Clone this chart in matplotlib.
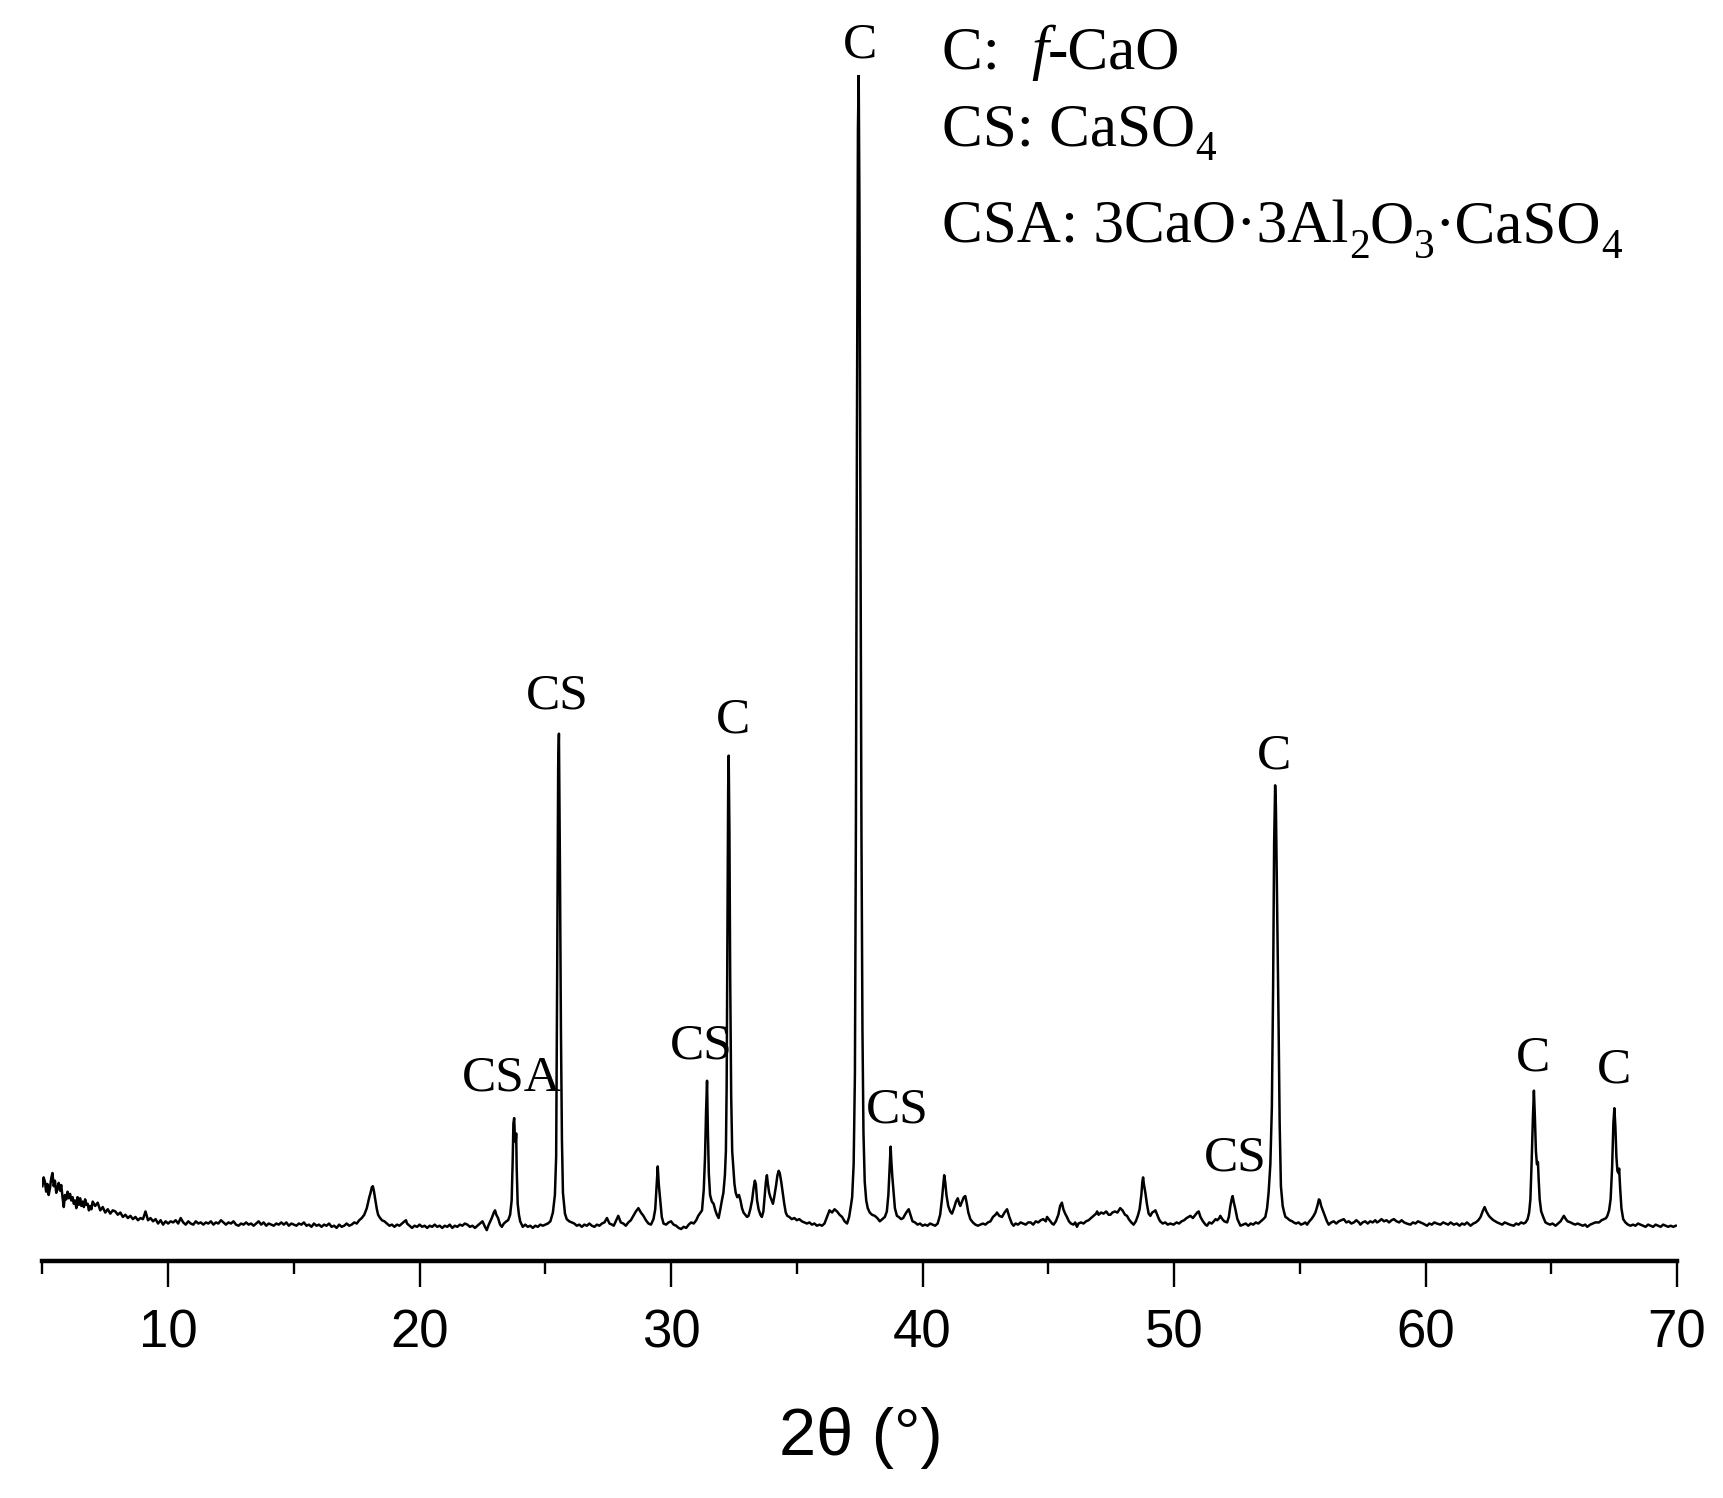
import matplotlib
matplotlib.use("Agg")
import numpy as np
import matplotlib.pyplot as plt
from matplotlib.ticker import MultipleLocator

# XRD scan: 2theta (deg) and intensity (a.u.)
tt_low = [5.0, 5.05, 5.1, 5.15, 5.2, 5.25, 5.3, 5.35, 5.4, 5.45, 5.5, 5.55, 5.6, 5.65, 5.7, 5.75, 5.8,
          5.85, 5.9, 5.95, 6.0, 6.05, 6.1, 6.15, 6.2, 6.25, 6.3, 6.35, 6.4, 6.45, 6.5, 6.55, 6.6, 6.65,
          6.7, 6.75, 6.8, 6.85, 6.9, 6.95,
          7.0, 7.1, 7.2, 7.3, 7.4, 7.5, 7.6, 7.7, 7.8, 7.9, 8.0, 8.1, 8.2, 8.3, 8.4, 8.5, 8.6, 8.7, 8.8, 8.9,
          9.0, 9.1, 9.2, 9.3, 9.4, 9.5, 9.6, 9.7, 9.8, 9.9, 10.0, 10.1, 10.2, 10.3, 10.4, 10.5, 10.6, 10.7,
          10.8, 10.9, 11.0, 11.1, 11.2, 11.3, 11.4, 11.5, 11.6, 11.7, 11.8, 11.9, 12.0, 12.1, 12.2, 12.3,
          12.4, 12.5, 12.6, 12.7, 12.8, 12.9, 13.0, 13.1, 13.2, 13.3, 13.4, 13.5, 13.6, 13.7, 13.8, 13.9,
          14.0, 14.1, 14.2, 14.3, 14.4, 14.5, 14.6, 14.7, 14.8, 14.9, 15.0, 15.1, 15.2, 15.3, 15.4, 15.5,
          15.6, 15.7, 15.8, 15.9, 16.0, 16.1, 16.2, 16.3, 16.4, 16.5, 16.6, 16.7, 16.8, 16.9, 17.0, 17.1,
          17.2, 17.3, 17.4, 17.5, 17.6, 17.7, 17.8, 17.9, 17.95, 18.0, 18.05, 18.1, 18.14, 18.18, 18.23,
          18.3, 18.35, 18.4, 18.5, 18.6, 18.7, 18.8, 18.9, 19.0, 19.1, 19.2, 19.3, 19.4, 19.46, 19.5, 19.6,
          19.7, 19.8, 19.9, 20.0, 20.1, 20.2, 20.3, 20.4, 20.5, 20.6, 20.7, 20.8, 20.9, 21.0, 21.1, 21.2,
          21.3, 21.4, 21.5, 21.6, 21.7, 21.8, 21.9, 22.0, 22.1, 22.2, 22.3, 22.4]
i_low = [68, 76, 72, 63, 70, 60, 66, 75, 80, 68, 73, 62, 66, 71, 64, 69, 58, 49, 60, 56,
         63, 57, 61, 55, 58, 52, 55, 48, 58, 51, 57, 50, 54, 49, 56, 51, 52, 46, 50, 47,
         54, 50, 53, 46, 49, 44, 47, 43, 46, 45, 42, 44, 40, 42, 39, 41, 38, 40, 37, 39,
         38, 45, 37, 39, 36, 38, 34, 37, 33, 36, 34, 36, 35, 37, 34, 39, 35, 33,
         36, 34, 33, 36, 34, 35, 33, 35, 34, 36, 33, 35, 34, 37, 35, 33,
         35, 34, 36, 33, 32, 34, 33, 35, 33, 34, 32, 34, 36, 33, 35, 32,
         34, 33, 32, 34, 33, 35, 33, 35, 32, 34, 33, 32, 34, 33, 35, 32,
         33, 31, 34, 32, 33, 31, 33, 32, 34, 31, 32, 30, 33, 31, 32, 34,
         32, 33, 35, 34, 37, 39, 42, 48, 53, 58, 62, 67, 68, 64, 57,
         47, 42, 40, 37, 36, 34, 32, 33, 31, 33, 32, 34, 36, 37, 34, 32,
         30, 32, 31, 33, 31, 32, 30, 32, 31, 33, 31, 32, 30, 32, 31, 33,
         30, 32, 31, 33, 32, 34, 33, 31, 32, 30, 32, 34]

tt_mid = [22.5, 22.6, 22.67, 22.75, 22.87, 22.95, 23.0, 23.05, 23.12, 23.2, 23.27, 23.35, 23.45, 23.52,
          23.6, 23.66, 23.7, 23.73, 23.76, 23.79, 23.82, 23.84, 23.86, 23.9, 23.95, 24.0, 24.1, 24.2,
          24.3, 24.4, 24.5, 24.6, 24.7, 24.8, 24.9, 25.0, 25.1, 25.2, 25.3, 25.38, 25.43, 25.47, 25.51,
          25.54, 25.58, 25.62, 25.66, 25.7, 25.78, 25.85, 25.95, 26.05, 26.15, 26.25, 26.35, 26.45,
          26.55, 26.65, 26.75, 26.85, 26.95, 27.05, 27.15, 27.25, 27.35, 27.45, 27.55, 27.65, 27.72,
          27.8, 27.9, 28.0, 28.1, 28.2, 28.3, 28.4, 28.5, 28.6, 28.7, 28.8, 28.9, 29.0, 29.1, 29.2,
          29.3, 29.37, 29.43, 29.47, 29.51, 29.57, 29.63, 29.7, 29.8, 29.9, 30.0, 30.1, 30.2, 30.3,
          30.4, 30.5, 30.6, 30.7, 30.8, 30.9, 31.0, 31.08, 31.17, 31.23, 31.3, 31.35, 31.39, 31.43,
          31.46, 31.5, 31.55, 31.62, 31.69, 31.76, 31.82, 31.89, 31.95, 32.02, 32.08, 32.14, 32.18,
          32.21, 32.24, 32.27, 32.29, 32.32, 32.35, 32.39, 32.43, 32.47, 32.52, 32.57, 32.63, 32.7,
          32.76, 32.82, 32.88, 32.95, 33.02, 33.08, 33.15, 33.22, 33.28, 33.33, 33.37, 33.42, 33.48,
          33.55, 33.61, 33.67, 33.72, 33.77, 33.81, 33.85, 33.9, 33.95, 34.0, 34.05, 34.1, 34.17,
          34.23, 34.28, 34.32, 34.38, 34.44, 34.5, 34.56, 34.62, 34.7, 34.8, 34.9]
i_mid = [36, 31, 28, 33, 39, 44, 46, 42, 39, 33, 31, 34, 36, 37,
         42, 55, 90, 125, 130, 112, 108, 116, 85, 52, 42, 36, 31, 33,
         31, 32, 30, 32, 31, 33, 32, 33, 34, 36, 44, 60, 95, 260, 450,
         480, 360, 210, 110, 62, 43, 38, 36, 35, 34, 32, 33, 31,
         33, 32, 34, 32, 31, 33, 32, 34, 35, 39, 34, 33, 32,
         36, 41, 35, 34, 32, 35, 37, 41, 45, 48, 44, 41, 37, 34, 33,
         38, 47, 70, 86, 70, 55, 40, 34, 33, 35, 36, 33, 32, 30,
         29, 31, 30, 33, 35, 34, 37, 41, 44, 46, 65, 95, 135, 164,
         122, 80, 60, 54, 52, 46, 42, 39, 46, 55, 62, 78, 100,
         160, 290, 430, 460, 390, 260, 150, 100, 86, 70, 62, 58, 60,
         55, 48, 44, 42, 40, 41, 47, 55, 66, 73, 70, 55, 47,
         42, 40, 45, 58, 72, 78, 70, 62, 58, 55, 52, 58, 68,
         78, 82, 80, 72, 62, 52, 44, 41, 40, 38, 39]

tt_c = [35.0, 35.1, 35.2, 35.3, 35.4, 35.5, 35.6, 35.7, 35.8, 35.9, 36.0, 36.1, 36.2, 36.3, 36.4, 36.5,
        36.6, 36.7, 36.8, 36.9, 37.0, 37.08, 37.15, 37.2, 37.26, 37.31, 37.35, 37.39, 37.43, 37.46,
        37.49, 37.53, 37.57, 37.61, 37.65, 37.7, 37.76, 37.82, 37.9, 37.99, 38.1, 38.2, 38.3, 38.4,
        38.5, 38.58, 38.64, 38.69, 38.73, 38.76, 38.8, 38.85, 38.9, 38.98, 39.05, 39.15, 39.23, 39.3,
        39.38, 39.45, 39.52, 39.6, 39.7, 39.8, 39.9, 40.0, 40.1, 40.2, 40.3, 40.4, 40.5, 40.6, 40.7,
        40.77, 40.82, 40.86, 40.9, 40.95, 41.02, 41.1, 41.17, 41.25, 41.33, 41.4, 41.46, 41.5, 41.57,
        41.64, 41.7, 41.76, 41.82, 41.9, 42.0, 42.1, 42.2, 42.3, 42.4, 42.5, 42.6, 42.7, 42.8, 42.9,
        42.96, 43.05, 43.16, 43.26, 43.36, 43.45, 43.55, 43.62, 43.7, 43.8, 43.9, 44.0, 44.1, 44.2,
        44.3, 44.4, 44.5, 44.6, 44.7, 44.8, 44.9]
i_c = [37, 38, 36, 35, 34, 35, 33, 34, 32, 33, 32, 34, 40, 46, 44, 47,
       45, 42, 40, 36, 34, 40, 50, 58, 88, 170, 400, 750, 1030, 1080,
       960, 660, 390, 210, 117, 72, 55, 48, 44, 42, 41, 39, 36, 38,
       40, 45, 60, 85, 104, 90, 76, 62, 48, 41, 40, 38, 39, 42,
       45, 47, 42, 36, 35, 33, 34, 32, 33, 32, 34, 33, 32, 34, 42,
       56, 68, 78, 72, 60, 50, 45, 43, 48, 54, 57, 52, 50, 54,
       58, 59, 52, 44, 38, 35, 33, 32, 33, 34, 33, 35, 36, 40, 42,
       44, 41, 40, 44, 47, 40, 34, 32, 34, 33, 35, 34, 33, 35,
       35, 33, 36, 35, 37, 38, 36]

tt_high = [44.95, 45.05, 45.15, 45.21, 45.3, 45.4, 45.47, 45.54, 45.6, 45.67, 45.74, 45.82, 45.9, 46.0,
           46.07, 46.14, 46.2, 46.3, 46.4, 46.5, 46.6, 46.7, 46.8, 46.9, 46.94, 47.0, 47.1, 47.2, 47.3,
           47.4, 47.47, 47.55, 47.65, 47.75, 47.86, 47.95, 48.05, 48.13, 48.2, 48.3, 48.39, 48.48,
           48.56, 48.63, 48.7, 48.74, 48.77, 48.8, 48.86, 48.92, 48.99, 49.06, 49.13, 49.2, 49.26,
           49.33, 49.4, 49.45, 49.55, 49.65, 49.75, 49.85, 49.98, 50.1, 50.2, 50.3, 50.4, 50.5, 50.58,
           50.65, 50.75, 50.85, 50.92, 50.98, 51.05, 51.15, 51.25, 51.31, 51.4, 51.5, 51.58, 51.65,
           51.72, 51.8, 51.84, 51.92, 52.0, 52.11, 52.18, 52.24, 52.3, 52.33, 52.38, 52.44, 52.52,
           52.64, 52.75, 52.85, 52.95, 53.05, 53.15, 53.25, 53.35, 53.45, 53.55, 53.63, 53.7, 53.76,
           53.83, 53.89, 53.94, 53.98, 54.02, 54.05, 54.08, 54.12, 54.16, 54.2, 54.25, 54.32, 54.38,
           54.43, 54.5, 54.6, 54.7, 54.76, 54.85, 54.95, 55.05, 55.15, 55.22, 55.29, 55.38, 55.46,
           55.55, 55.62, 55.7, 55.76, 55.8, 55.85, 55.9, 55.95, 56.02, 56.08, 56.15, 56.25, 56.35,
           56.45, 56.55, 56.65, 56.75, 56.85, 56.95, 57.05, 57.15, 57.25, 57.35, 57.41, 57.5, 57.6,
           57.7, 57.8, 57.9, 58.0, 58.07, 58.15, 58.25, 58.35, 58.45, 58.55, 58.65, 58.74, 58.85,
           58.95, 59.05, 59.15, 59.25, 59.4, 59.5, 59.6, 59.7, 59.8, 59.9, 60.06, 60.15, 60.25,
           60.35, 60.45, 60.59, 60.7, 60.8, 60.9, 61.0, 61.12, 61.25, 61.35, 61.45, 61.55, 61.65,
           61.79, 61.9, 62.0, 62.1, 62.19, 62.27, 62.35, 62.42, 62.52, 62.6, 62.7, 62.85, 62.95,
           63.05, 63.15, 63.25, 63.35, 63.51, 63.6, 63.7, 63.8, 63.9, 63.98, 64.06, 64.12, 64.17,
           64.22, 64.27, 64.31, 64.35, 64.39, 64.43, 64.47, 64.5, 64.54, 64.6, 64.68, 64.77, 64.85,
           64.95, 65.05, 65.17, 65.27, 65.37, 65.45, 65.5, 65.58, 65.65, 65.77, 65.85, 65.95, 66.05,
           66.15, 66.25, 66.35, 66.43, 66.55, 66.65, 66.75, 66.9, 67.0, 67.1, 67.18, 67.23, 67.3,
           67.36, 67.42, 67.47, 67.51, 67.55, 67.59, 67.63, 67.67, 67.7, 67.74, 67.79, 67.86, 67.95,
           68.05, 68.15, 68.25, 68.35, 68.45, 68.55, 68.65, 68.75, 68.85, 68.95, 69.05, 69.15, 69.25,
           69.35, 69.45, 69.55, 69.65, 69.75, 69.85, 69.95]
i_high = [40, 37, 34, 33, 36, 42, 50, 53, 47, 43, 40, 36, 34, 33,
          35, 31, 34, 35, 34, 36, 37, 39, 41, 43, 45, 42, 44, 43, 45,
          42, 42, 44, 45, 44, 48, 46, 42, 41, 38, 35, 33, 36,
          41, 47, 60, 72, 76, 70, 62, 52, 43, 41, 44, 45, 46,
          42, 38, 36, 34, 35, 33, 34, 33, 35, 34, 36, 37, 39, 40,
          41, 39, 42, 44, 45, 40, 36, 33, 32, 35, 34, 36, 38,
          37, 39, 41, 38, 36, 35, 40, 50, 57, 59, 53, 47, 38,
          32, 33, 34, 32, 34, 33, 35, 34, 36, 38, 40, 48, 62,
          88, 140, 250, 380, 433, 415, 360, 290, 210, 125, 68, 50, 44,
          40, 39, 37, 36, 35, 34, 35, 33, 34, 35, 33, 36, 38,
          41, 44, 50, 56, 55, 50, 47, 44, 40, 36, 33, 35, 36,
          34, 36, 37, 38, 35, 36, 34, 35, 37, 35, 33, 35, 36,
          34, 36, 35, 37, 35, 36, 38, 36, 37, 35, 37, 38, 36,
          35, 37, 35, 34, 33, 35, 34, 36, 35, 34, 32, 34, 33,
          35, 34, 33, 35, 34, 33, 35, 33, 34, 32, 34, 33, 35,
          32, 34, 35, 37, 40, 45, 49, 45, 41, 39, 37, 35, 34,
          33, 35, 34, 33, 32, 34, 33, 35, 34, 35, 38, 44, 56,
          90, 130, 155, 130, 100, 88, 90, 74, 56, 45, 40, 35, 34,
          33, 34, 32, 34, 36, 39, 41, 38, 36, 35, 34, 33, 34,
          33, 32, 33, 31, 33, 34, 35, 35, 37, 38, 39, 41, 46,
          56, 85, 125, 139, 122, 95, 82, 80, 84, 66, 48, 38, 35,
          33, 32, 33, 32, 34, 33, 32, 31, 33, 32, 31, 33, 32,
          31, 33, 32, 31, 32, 31, 32]

# phase labels: text, 2theta, intensity of the text baseline
label_text = ["CSA", "CS", "CS", "C", "C", "CS", "CS", "C", "C", "C"]
label_tt = [23.68, 25.47, 31.18, 32.46, 37.5, 38.98, 52.44, 53.97, 64.28, 67.51]
label_i = [155, 503, 184, 481, 1096, 126, 82, 448, 173, 162]

# phase key, as runs of (text, style): n = normal, i = italic, s = subscript
key_lines = [[("C:  ", "n"), ("f", "i"), ("-CaO", "n")],
             [("CS: CaSO", "n"), ("4", "s")],
             [("CSA: 3CaO·3Al", "n"), ("2", "s"), ("O", "n"), ("3", "s"), ("·CaSO", "n"), ("4", "s")]]
key_baselines = [0.9546, 0.9032, 0.8378]

two_theta = np.array(tt_low + tt_mid + tt_c + tt_high)
intensity = np.array(i_low + i_mid + i_c + i_high)

W, H = 1723, 1498
fig = plt.figure(figsize=(W / 100, H / 100), dpi=100)
ax = fig.add_axes([0.0246, 0.1583, 0.9487, 0.7918])
ax.plot(two_theta, intensity, color='black', lw=1.8)

ax.set_xlim(5, 70)
ax.set_ylim(0, 1080)
for s in ['left', 'right', 'top']:
    ax.spines[s].set_visible(False)
ax.spines['bottom'].set_linewidth(3.2)
ax.set_yticks([])
ax.xaxis.set_major_locator(MultipleLocator(10))
ax.xaxis.set_minor_locator(MultipleLocator(5))
ax.tick_params(axis='x', which='major', direction='out', length=19, width=1.7, pad=15)
ax.tick_params(axis='x', which='minor', direction='out', length=9.5, width=1.7)
for lab in ax.get_xticklabels():
    lab.set_fontfamily('Liberation Sans')
    lab.set_fontsize(38)

for t, x, y in zip(label_text, label_tt, label_i):
    ax.text(x, y, t, ha='center', va='baseline', fontsize=37,
            family='Liberation Serif', clip_on=False)

renderer = fig.canvas.get_renderer()
key_size = 44
for runs, yb in zip(key_lines, key_baselines):
    x = 0.547
    for txt, style in runs:
        if style == "s":
            t = fig.text(x, yb - 15 / H, txt, ha='left', va='baseline',
                         fontsize=key_size * 0.68, family='Liberation Serif')
        else:
            t = fig.text(x, yb, txt, ha='left', va='baseline', fontsize=key_size,
                         family='Liberation Serif',
                         style='italic' if style == "i" else 'normal')
        bb = t.get_window_extent(renderer)
        x = bb.x1 / W

fig.text(0.4995, 0.0287, "2θ (°)", ha='center', va='baseline', fontsize=48, family='Liberation Sans')

fig.savefig('out.png', dpi=100)
